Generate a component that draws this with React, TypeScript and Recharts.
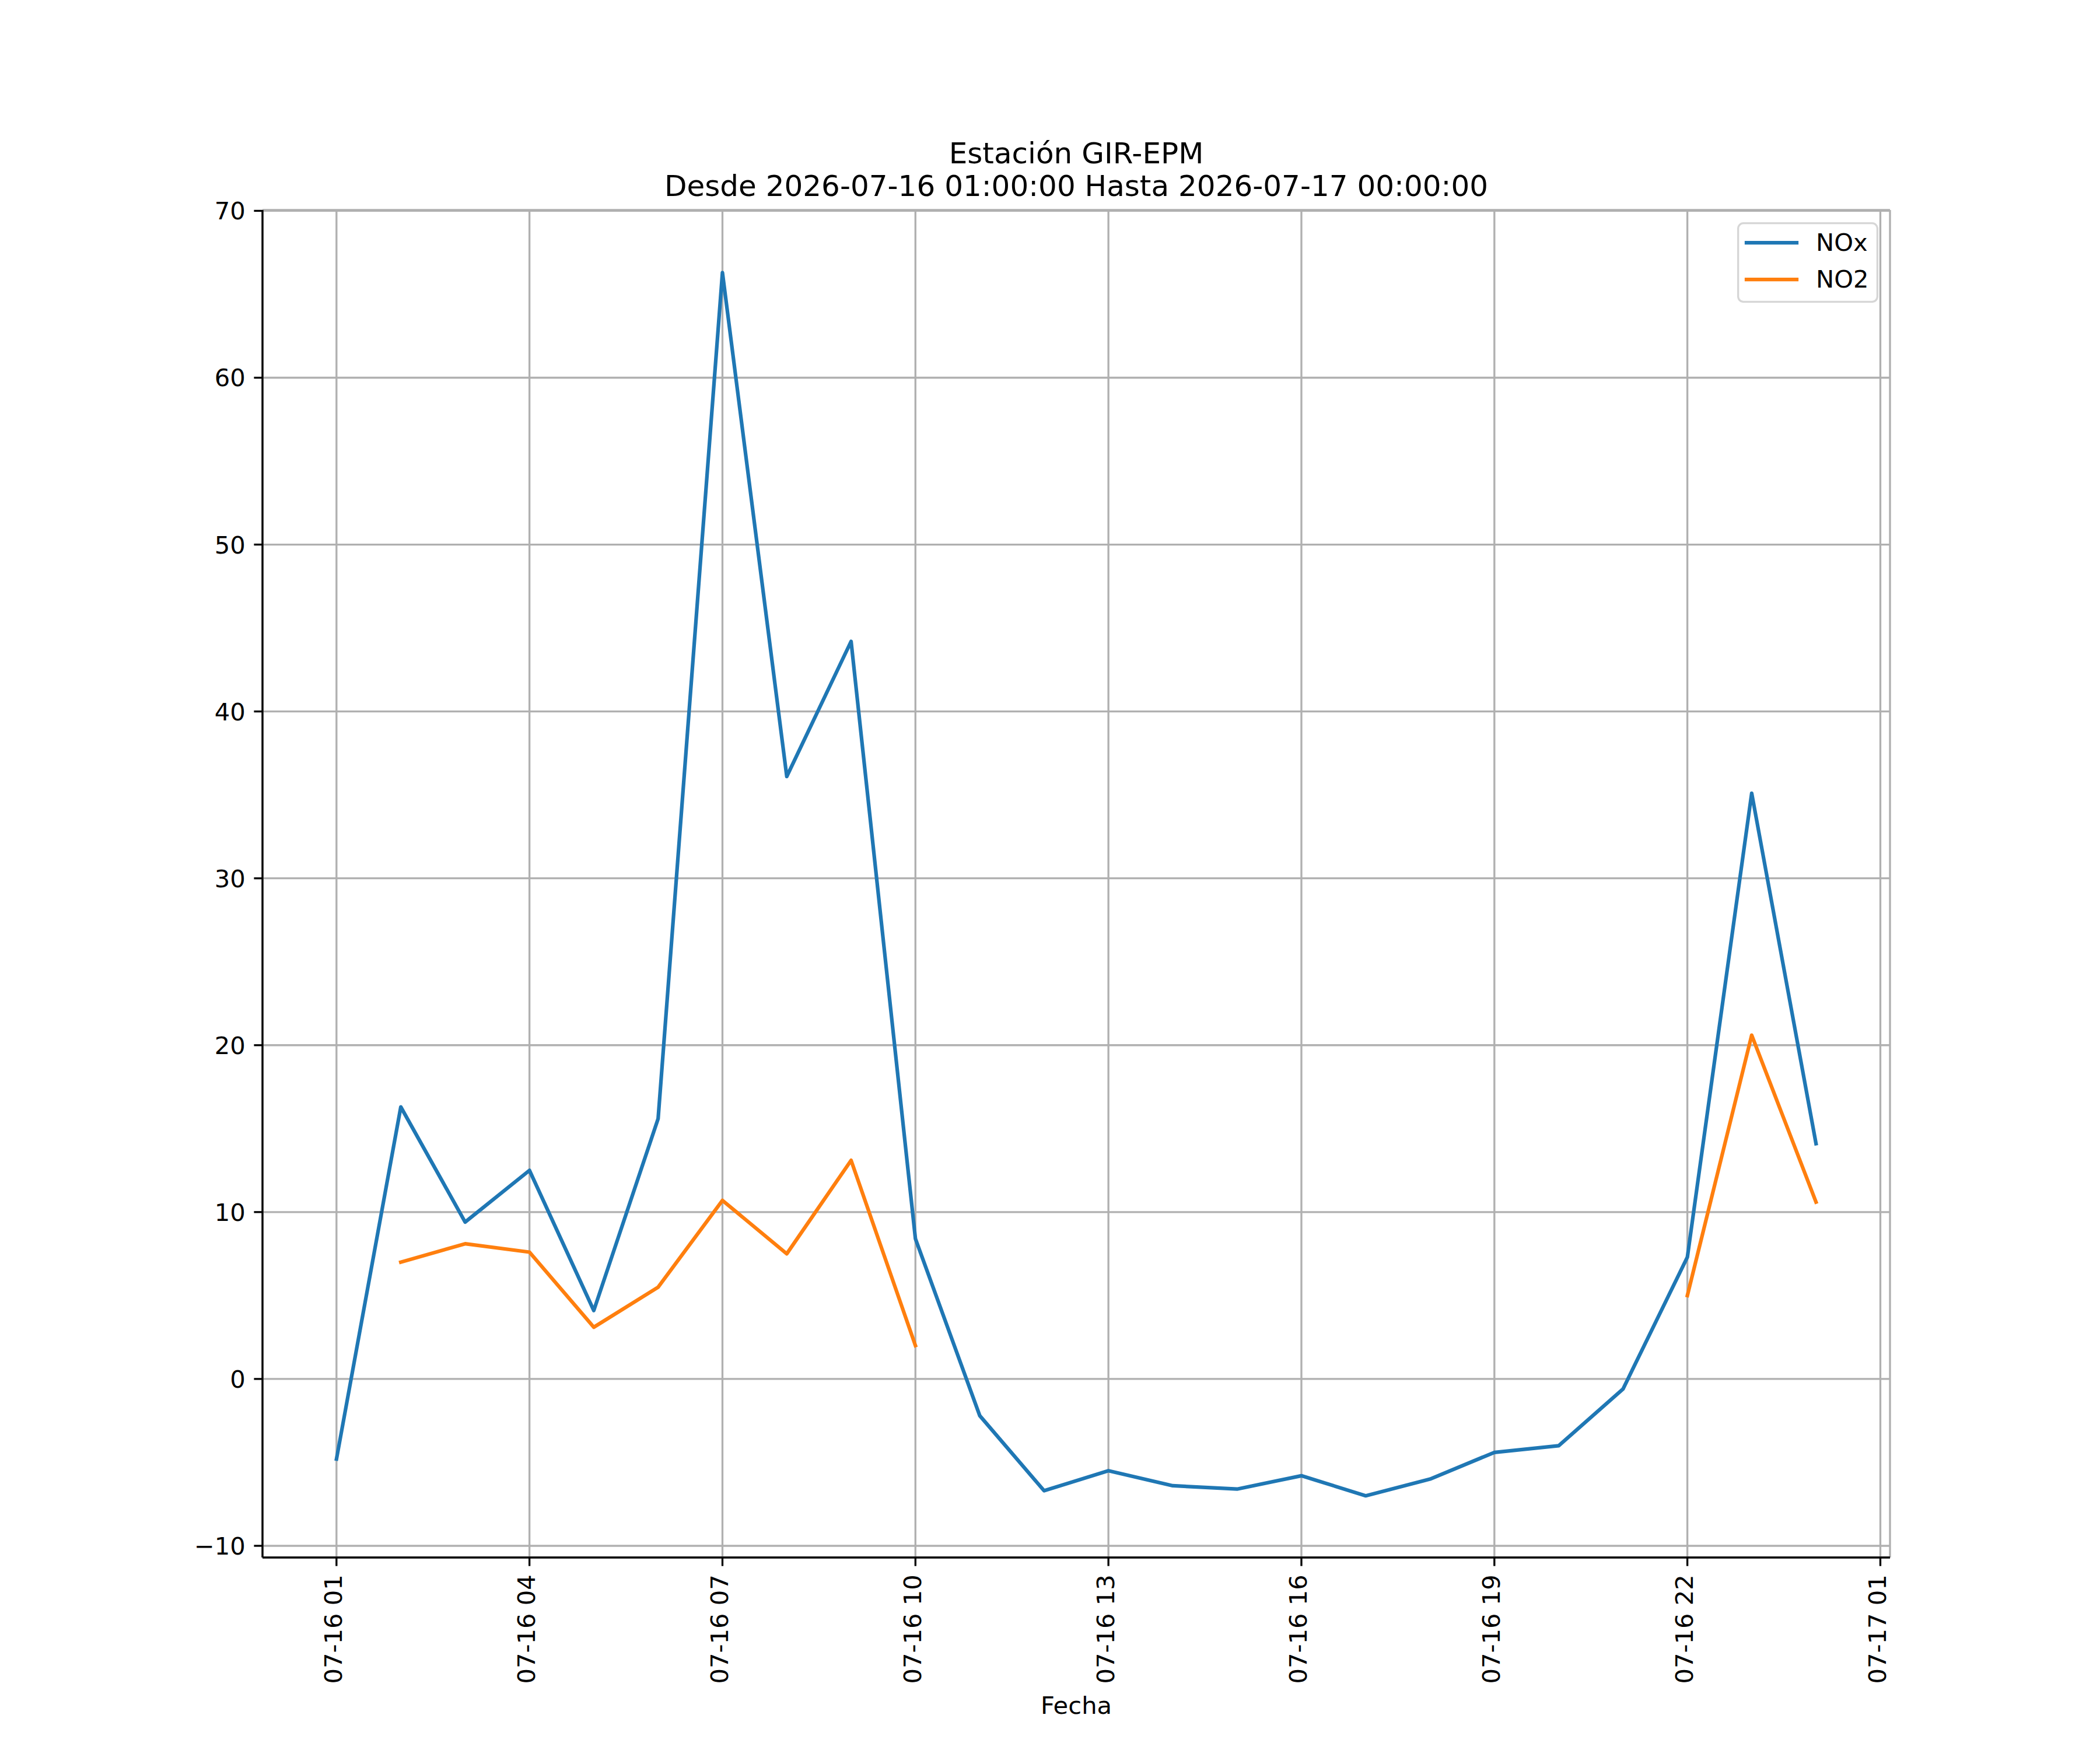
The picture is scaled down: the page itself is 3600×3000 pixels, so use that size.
import React from 'react';
import { LineChart, Line, XAxis, YAxis, CartesianGrid, Legend } from 'recharts';

const hours = [1, 2, 3, 4, 5, 6, 7, 8, 9, 10, 11, 12, 13, 14, 15, 16, 17, 18, 19, 20, 21, 22, 23, 24];
const noxValues = [-4.8, 16.3, 9.4, 12.5, 4.1, 15.6, 66.3, 36.1, 44.2, 8.4, -2.2, -6.7, -5.5, -6.4, -6.6, -5.8, -7.0, -6.0, -4.4, -4.0, -0.6, 7.3, 35.1, 14.1];
const no2Values: (number | null)[] = [null, 7.0, 8.1, 7.6, 3.1, 5.5, 10.7, 7.5, 13.1, 2.0, null, null, null, null, null, null, null, null, null, null, null, 5.0, 20.6, 10.6];
const xTicks = [1, 4, 7, 10, 13, 16, 19, 22, 25];
const xTickLabels = ['07-16 01', '07-16 04', '07-16 07', '07-16 10', '07-16 13', '07-16 16', '07-16 19', '07-16 22', '07-17 01'];
const yTicks = [-10, 0, 10, 20, 30, 40, 50, 60, 70];
const titleLines = ['Estación GIR-EPM', 'Desde 2026-07-16 01:00:00 Hasta 2026-07-17 00:00:00'];
const xLabel = 'Fecha';
const seriesNames = ['NOx', 'NO2'];

const data = hours.map((h, i) => ({ h, nox: noxValues[i], no2: no2Values[i] }));

const FONT = 'DejaVu Sans, Liberation Sans, sans-serif';
const FS = 41.67;
const LW = 3.33;

const XTick = (props: any) => {
  const { x, y, payload } = props;
  const idx = xTicks.indexOf(payload.value);
  return (
    <text
      transform={`translate(${x + 9.5},${y}) rotate(-90)`}
      textAnchor="end"
      fontFamily={FONT}
      fontSize={FS}
      fill="#000"
    >
      {idx >= 0 ? xTickLabels[idx] : ''}
    </text>
  );
};

const YTick = (props: any) => {
  const { x, y, payload } = props;
  return (
    <text x={x} y={y} dy="0.36em" textAnchor="end" fontFamily={FONT} fontSize={FS} fill="#000">
      {String(payload.value).replace('-', '\u2212')}
    </text>
  );
};

const LegendBox = (props: any) => {
  const payload = [...(props.payload || [])].sort(
    (a: any, b: any) => seriesNames.indexOf(a.value) - seriesNames.indexOf(b.value)
  );
  return (
    <svg width={242} height={138} style={{ display: 'block' }}>
      <rect x={1.67} y={1.67} width={238.7} height={134.7} rx={9} ry={9} fill="#ffffff" fillOpacity={0.8} stroke="#cccccc" strokeOpacity={0.8} strokeWidth={LW} />
      {payload.map((entry: any, i: number) => (
        <g key={i}>
          <line x1={16} x2={102} y1={35 + i * 63} y2={35 + i * 63} stroke={entry.color} strokeWidth={6.25} strokeLinecap="square" />
          <text x={135} y={49 + i * 63} fontFamily={FONT} fontSize={FS} fill="#000">{entry.value}</text>
        </g>
      ))}
    </svg>
  );
};

export default function App() {
  return (
    <div style={{ position: 'absolute', left: 0, top: 0, width: 3600, height: 3000, background: '#fff' }}>
      <LineChart width={3600} height={3000} data={data} margin={{ top: 360, right: 360, bottom: 0, left: 0 }}>
        <CartesianGrid xAxisId="main" yAxisId="main" stroke="#b0b0b0" strokeWidth={LW} />
        <XAxis
          xAxisId="main"
          dataKey="h"
          type="number"
          domain={[-0.15, 25.15]}
          ticks={xTicks}
          allowDataOverflow
          height={330}
          tickSize={14.6}
          tickMargin={14.6}
          tick={<XTick />}
          axisLine={{ stroke: '#000', strokeWidth: LW }}
          tickLine={{ stroke: '#000', strokeWidth: LW }}
          interval={0}
        />
        <XAxis
          xAxisId="top"
          orientation="top"
          dataKey="h"
          type="number"
          domain={[-0.15, 25.15]}
          height={0}
          tick={false}
          tickLine={false}
          axisLine={{ stroke: '#000', strokeWidth: LW }}
        />
        <YAxis
          yAxisId="main"
          type="number"
          domain={[-10.7, 70.05]}
          ticks={yTicks}
          allowDataOverflow
          width={450}
          tickSize={14.6}
          tickMargin={14.6}
          tick={<YTick />}
          axisLine={{ stroke: '#000', strokeWidth: LW }}
          tickLine={{ stroke: '#000', strokeWidth: LW }}
          interval={0}
        />
        <YAxis
          yAxisId="right"
          orientation="right"
          type="number"
          domain={[-10.7, 70.05]}
          width={0}
          tick={false}
          tickLine={false}
          axisLine={{ stroke: '#000', strokeWidth: LW }}
        />
        <Line
          xAxisId="main"
          yAxisId="main"
          type="linear"
          dataKey="nox"
          name={seriesNames[0]}
          stroke="#1f77b4"
          strokeWidth={6.25}
          strokeLinejoin="round"
          strokeLinecap="square"
          dot={false}
          activeDot={false}
          connectNulls={false}
          isAnimationActive={false}
        />
        <Line
          xAxisId="main"
          yAxisId="main"
          type="linear"
          dataKey="no2"
          name={seriesNames[1]}
          stroke="#ff7f0e"
          strokeWidth={6.25}
          strokeLinejoin="round"
          strokeLinecap="square"
          dot={false}
          activeDot={false}
          connectNulls={false}
          isAnimationActive={false}
        />
        <Legend
          layout="vertical"
          align="center"
          verticalAlign="middle"
          content={<LegendBox />}
          wrapperStyle={{ position: 'absolute', left: 2978, top: 381, width: 242, height: 138 }}
        />
      </LineChart>
      <svg width={3600} height={3000} style={{ position: 'absolute', left: 0, top: 0, pointerEvents: 'none' }}>
        <text x={1845} y={280} textAnchor="middle" fontFamily={FONT} fontSize={50} fill="#000">{titleLines[0]}</text>
        <text x={1845} y={336} textAnchor="middle" fontFamily={FONT} fontSize={50} fill="#000">{titleLines[1]}</text>
        <text x={1845} y={2938} textAnchor="middle" fontFamily={FONT} fontSize={FS} fill="#000">{xLabel}</text>
      </svg>
    </div>
  );
}
